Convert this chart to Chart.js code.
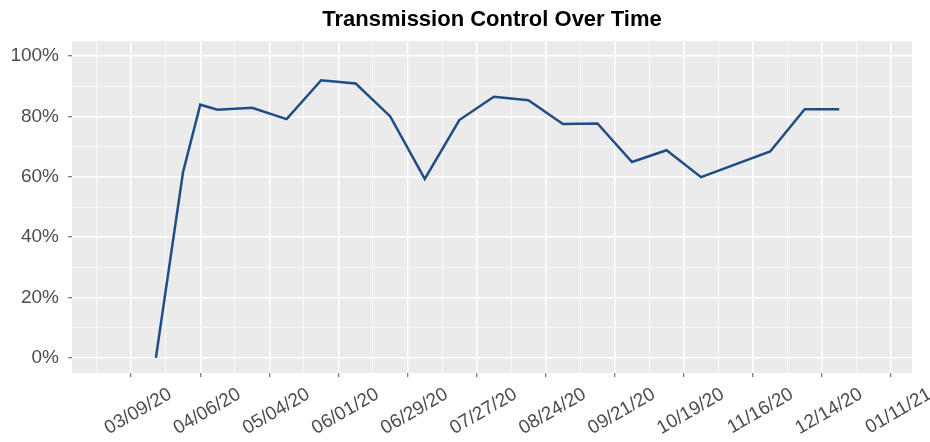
<!DOCTYPE html>
<html>
<head>
<meta charset="utf-8">
<script src="https://cdn.jsdelivr.net/npm/chart.js@4.4.1/dist/chart.umd.min.js"></script>
<style>
  html, body { margin: 0; padding: 0; background: #fff; }
  #wrap { width: 930px; height: 442px; }
</style>
</head>
<body>
<div id="wrap"><canvas id="tcChart" width="930" height="442"></canvas></div>
<script>
// data
const dates = ['03/19/20', '03/30/20', '04/06/20', '04/13/20', '04/27/20', '05/11/20', '05/25/20',
    '06/08/20', '06/22/20', '07/06/20', '07/20/20', '08/03/20', '08/17/20', '08/31/20',
    '09/14/20', '09/28/20', '10/12/20', '10/26/20', '11/23/20', '12/07/20', '12/21/20'];
const controlPct = [0, 61.5, 83.9, 82.2, 82.9, 79.1, 92.0, 90.9, 80.0, 59.3, 78.8, 86.5,
    85.4, 77.5, 77.7, 64.9, 68.8, 59.9, 68.4, 82.4, 82.4];
const xTickLabels = ['03/09/20', '04/06/20', '05/04/20', '06/01/20', '06/29/20', '07/27/20',
    '08/24/20', '09/21/20', '10/19/20', '11/16/20', '12/14/20', '01/11/21'];
const yTickLabels = ['0%', '20%', '40%', '60%', '80%', '100%'];

const DAY = 86400000;
const origin = Date.UTC(2020, 2, 9);

function toDay(s) {
    const [m, d, y] = s.split('/').map(Number);
    return Math.round((Date.UTC(2000 + y, m - 1, d) - origin) / DAY);
}
function fmtDay(n) {
    const dt = new Date(origin + n * DAY);
    const pad = v => String(v).padStart(2, '0');
    return pad(dt.getUTCMonth() + 1) + '/' + pad(dt.getUTCDate()) + '/' + pad(dt.getUTCFullYear() % 100);
}

const majorX = xTickLabels.map(toDay);
// minor gridlines half way between majors
const allX = [];
majorX.forEach((v, i) => {
    if (i === 0) allX.push(v - 14);
    allX.push(v);
    if (i < majorX.length - 1) allX.push(v + 14);
});
const majorY = yTickLabels.map(s => parseFloat(s));
const allY = [];
for (let v = 0; v <= 100; v += 10) allY.push(v);

const points = dates.map((d, i) => ({ x: toDay(d), y: controlPct[i] }));

const panelBg = {
    id: 'panelBg',
    beforeDraw(chart) {
        const { ctx, chartArea: a } = chart;
        ctx.save();
        ctx.fillStyle = '#ebebeb';
        ctx.fillRect(a.left, a.top, a.right - a.left, a.bottom - a.top);
        ctx.restore();
    }
};

const panelTitle = {
    id: 'panelTitle',
    afterDraw(chart) {
        const { ctx, chartArea: a } = chart;
        ctx.save();
        ctx.font = 'bold 22px "Liberation Sans", Arial, sans-serif';
        ctx.fillStyle = '#000';
        ctx.textAlign = 'center';
        ctx.textBaseline = 'middle';
        ctx.fillText('Transmission Control Over Time', (a.left + a.right) / 2, 20);
        ctx.restore();
    }
};

const isMajorX = v => majorX.includes(v);
const isMajorY = v => majorY.includes(v);

new Chart(document.getElementById('tcChart'), {
    type: 'line',
    data: {
        datasets: [{
            data: points,
            borderColor: '#1f4e87',
            borderWidth: 2.5,
            pointRadius: 0,
            tension: 0,
            fill: false
        }]
    },
    plugins: [panelBg, panelTitle],
    options: {
        responsive: false,
        animation: false,
        layout: { padding: { top: 41, right: 18, left: 0, bottom: 0 } },
        plugins: {
            legend: { display: false },
            tooltip: { enabled: false }
        },
        scales: {
            x: {
                type: 'linear',
                min: -24,
                max: 316.5,
                afterBuildTicks: s => { s.ticks = allX.map(v => ({ value: v })); },
                afterFit: s => { s.height = 69; },
                border: { display: false },
                grid: {
                    color: '#ffffff',
                    lineWidth: c => isMajorX(c.tick.value) ? 1.5 : 0.7,
                    tickLength: 4,
                    tickColor: c => isMajorX(c.tick.value) ? '#555555' : 'rgba(0,0,0,0)',
                    tickWidth: 1
                },
                ticks: {
                    autoSkip: false,
                    minRotation: 30,
                    maxRotation: 30,
                    labelOffset: 39,
                    padding: 6,
                    color: '#4d4d4d',
                    font: { family: '"Liberation Sans", Arial, sans-serif', size: 19 },
                    callback: v => isMajorX(v) ? fmtDay(v) : ''
                }
            },
            y: {
                min: -5,
                max: 105,
                afterBuildTicks: s => { s.ticks = allY.map(v => ({ value: v })); },
                afterFit: s => { s.width = 72; },
                border: { display: false },
                grid: {
                    color: '#ffffff',
                    lineWidth: c => isMajorY(c.tick.value) ? 1.5 : 0.7,
                    tickLength: 4,
                    tickColor: c => isMajorY(c.tick.value) ? '#555555' : 'rgba(0,0,0,0)',
                    tickWidth: 1
                },
                ticks: {
                    autoSkip: false,
                    padding: 9,
                    color: '#4d4d4d',
                    font: { family: '"Liberation Sans", Arial, sans-serif', size: 19 },
                    callback: v => isMajorY(v) ? v + '%' : ''
                }
            }
        }
    }
});
</script>
</body>
</html>
